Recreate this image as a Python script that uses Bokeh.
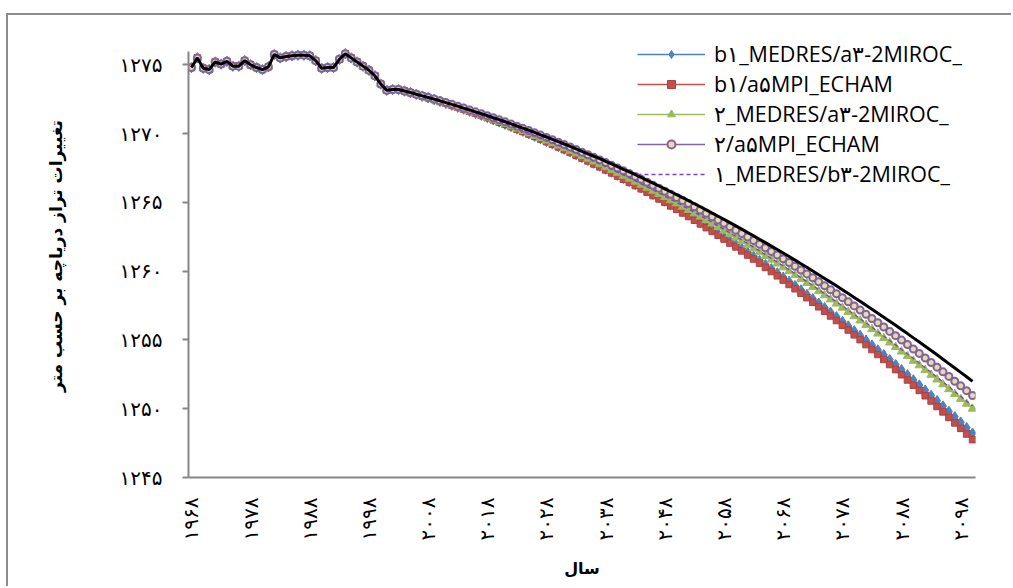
import math

from bokeh.embed import file_html
from bokeh.models import FixedTicker, Legend, LegendItem, Range1d
from bokeh.plotting import figure
from bokeh.resources import INLINE

# Years on the category axis
years = list(range(1968, 2101))

# Observed lake level (shared by every scenario), 1968-2002
observed = [
    1274.80, 1275.50, 1274.75, 1274.65, 1275.20, 1275.05, 1275.25, 1274.90, 1274.90, 1275.30,
    1275.00, 1274.80, 1274.65, 1274.85, 1275.75, 1275.50, 1275.60, 1275.65, 1275.70, 1275.70,
    1275.65, 1275.30, 1274.75, 1274.80, 1274.80, 1275.40, 1275.80, 1275.50, 1275.20, 1274.90,
    1274.60, 1274.20, 1273.60, 1273.15, 1273.20,
]

# Projected levels, 2003-2100
blue_proj = [
    1273.20, 1273.09, 1272.97, 1272.85, 1272.72, 1272.60, 1272.47, 1272.34, 1272.20, 1272.06,
    1271.92, 1271.78, 1271.63, 1271.48, 1271.33, 1271.17, 1271.01, 1270.85, 1270.68, 1270.52,
    1270.34, 1270.17, 1269.99, 1269.81, 1269.63, 1269.44, 1269.25, 1269.06, 1268.87, 1268.67,
    1268.47, 1268.27, 1268.06, 1267.85, 1267.64, 1267.42, 1267.20, 1266.98, 1266.75, 1266.53,
    1266.30, 1266.06, 1265.83, 1265.59, 1265.34, 1265.10, 1264.85, 1264.60, 1264.34, 1264.09,
    1263.83, 1263.56, 1263.30, 1263.03, 1262.75, 1262.48, 1262.20, 1261.92, 1261.63, 1261.35,
    1261.06, 1260.76, 1260.47, 1260.17, 1259.87, 1259.56, 1259.25, 1258.94, 1258.63, 1258.31,
    1257.99, 1257.67, 1257.34, 1257.01, 1256.68, 1256.34, 1256.01, 1255.66, 1255.32, 1254.97,
    1254.62, 1254.27, 1253.92, 1253.56, 1253.20, 1252.83, 1252.46, 1252.09, 1251.72, 1251.34,
    1250.96, 1250.58, 1250.19, 1249.80, 1249.41, 1249.02, 1248.62, 1248.22,
]
red_proj = [
    1273.20, 1273.09, 1272.97, 1272.85, 1272.72, 1272.60, 1272.47, 1272.33, 1272.20, 1272.06,
    1271.92, 1271.77, 1271.62, 1271.47, 1271.32, 1271.16, 1271.00, 1270.83, 1270.67, 1270.50,
    1270.32, 1270.15, 1269.97, 1269.79, 1269.60, 1269.41, 1269.22, 1269.03, 1268.83, 1268.63,
    1268.42, 1268.22, 1268.01, 1267.79, 1267.58, 1267.36, 1267.14, 1266.91, 1266.68, 1266.45,
    1266.22, 1265.98, 1265.74, 1265.49, 1265.25, 1265.00, 1264.74, 1264.49, 1264.23, 1263.97,
    1263.70, 1263.43, 1263.16, 1262.89, 1262.61, 1262.33, 1262.04, 1261.76, 1261.47, 1261.17,
    1260.88, 1260.58, 1260.27, 1259.97, 1259.66, 1259.35, 1259.03, 1258.72, 1258.39, 1258.07,
    1257.74, 1257.41, 1257.08, 1256.74, 1256.41, 1256.06, 1255.72, 1255.37, 1255.02, 1254.66,
    1254.30, 1253.94, 1253.58, 1253.21, 1252.84, 1252.47, 1252.09, 1251.71, 1251.33, 1250.94,
    1250.56, 1250.16, 1249.77, 1249.37, 1248.97, 1248.57, 1248.16, 1247.75,
]
green_proj = [
    1273.20, 1273.08, 1272.96, 1272.84, 1272.71, 1272.58, 1272.45, 1272.32, 1272.18, 1272.05,
    1271.90, 1271.76, 1271.61, 1271.47, 1271.32, 1271.16, 1271.01, 1270.85, 1270.69, 1270.52,
    1270.36, 1270.19, 1270.02, 1269.84, 1269.67, 1269.49, 1269.31, 1269.12, 1268.94, 1268.75,
    1268.56, 1268.36, 1268.17, 1267.97, 1267.77, 1267.56, 1267.35, 1267.15, 1266.93, 1266.72,
    1266.50, 1266.28, 1266.06, 1265.84, 1265.61, 1265.38, 1265.15, 1264.92, 1264.68, 1264.44,
    1264.20, 1263.96, 1263.71, 1263.46, 1263.21, 1262.95, 1262.70, 1262.44, 1262.18, 1261.91,
    1261.64, 1261.37, 1261.10, 1260.83, 1260.55, 1260.27, 1259.99, 1259.71, 1259.42, 1259.13,
    1258.84, 1258.54, 1258.24, 1257.94, 1257.64, 1257.34, 1257.03, 1256.72, 1256.41, 1256.09,
    1255.78, 1255.46, 1255.13, 1254.81, 1254.48, 1254.15, 1253.82, 1253.48, 1253.15, 1252.81,
    1252.46, 1252.12, 1251.77, 1251.42, 1251.07, 1250.71, 1250.36, 1250.00,
]
purple_proj = [
    1273.20, 1273.09, 1272.98, 1272.86, 1272.75, 1272.63, 1272.51, 1272.38, 1272.26, 1272.13,
    1271.99, 1271.86, 1271.72, 1271.58, 1271.44, 1271.30, 1271.15, 1271.00, 1270.85, 1270.70,
    1270.54, 1270.38, 1270.22, 1270.05, 1269.89, 1269.72, 1269.55, 1269.37, 1269.20, 1269.02,
    1268.84, 1268.65, 1268.46, 1268.27, 1268.08, 1267.89, 1267.69, 1267.49, 1267.29, 1267.09,
    1266.88, 1266.67, 1266.46, 1266.24, 1266.03, 1265.81, 1265.59, 1265.36, 1265.14, 1264.91,
    1264.68, 1264.44, 1264.20, 1263.96, 1263.72, 1263.48, 1263.23, 1262.98, 1262.73, 1262.48,
    1262.22, 1261.96, 1261.70, 1261.43, 1261.17, 1260.90, 1260.63, 1260.35, 1260.08, 1259.80,
    1259.52, 1259.23, 1258.94, 1258.65, 1258.36, 1258.07, 1257.77, 1257.47, 1257.17, 1256.87,
    1256.56, 1256.25, 1255.94, 1255.62, 1255.31, 1254.99, 1254.67, 1254.34, 1254.02, 1253.69,
    1253.36, 1253.02, 1252.68, 1252.35, 1252.00, 1251.66, 1251.31, 1250.96,
]
dashed_proj = [
    1273.20, 1273.08, 1272.96, 1272.84, 1272.72, 1272.59, 1272.46, 1272.33, 1272.19, 1272.05,
    1271.92, 1271.77, 1271.63, 1271.48, 1271.33, 1271.18, 1271.02, 1270.87, 1270.71, 1270.54,
    1270.38, 1270.21, 1270.04, 1269.87, 1269.70, 1269.52, 1269.34, 1269.16, 1268.97, 1268.78,
    1268.60, 1268.40, 1268.21, 1268.01, 1267.81, 1267.61, 1267.40, 1267.20, 1266.99, 1266.78,
    1266.56, 1266.34, 1266.12, 1265.90, 1265.68, 1265.45, 1265.22, 1264.99, 1264.75, 1264.52,
    1264.28, 1264.03, 1263.79, 1263.54, 1263.29, 1263.04, 1262.78, 1262.53, 1262.27, 1262.00,
    1261.74, 1261.47, 1261.20, 1260.93, 1260.66, 1260.38, 1260.10, 1259.82, 1259.53, 1259.24,
    1258.96, 1258.66, 1258.37, 1258.07, 1257.77, 1257.47, 1257.16, 1256.86, 1256.55, 1256.23,
    1255.92, 1255.60, 1255.28, 1254.96, 1254.64, 1254.31, 1253.98, 1253.65, 1253.31, 1252.98,
    1252.64, 1252.29, 1251.95, 1251.60, 1251.25, 1250.90, 1250.54, 1250.19,
]
black_proj = [
    1273.20, 1273.09, 1272.98, 1272.86, 1272.74, 1272.62, 1272.50, 1272.38, 1272.25, 1272.12,
    1271.99, 1271.85, 1271.72, 1271.58, 1271.44, 1271.30, 1271.15, 1271.01, 1270.86, 1270.71,
    1270.55, 1270.40, 1270.24, 1270.08, 1269.91, 1269.75, 1269.58, 1269.41, 1269.24, 1269.07,
    1268.89, 1268.71, 1268.53, 1268.35, 1268.17, 1267.98, 1267.79, 1267.60, 1267.40, 1267.21,
    1267.01, 1266.81, 1266.60, 1266.40, 1266.19, 1265.98, 1265.77, 1265.56, 1265.34, 1265.12,
    1264.90, 1264.68, 1264.45, 1264.22, 1263.99, 1263.76, 1263.53, 1263.29, 1263.05, 1262.81,
    1262.57, 1262.32, 1262.07, 1261.82, 1261.57, 1261.32, 1261.06, 1260.80, 1260.54, 1260.28,
    1260.01, 1259.74, 1259.47, 1259.20, 1258.93, 1258.65, 1258.37, 1258.09, 1257.81, 1257.52,
    1257.23, 1256.94, 1256.65, 1256.35, 1256.06, 1255.76, 1255.46, 1255.15, 1254.85, 1254.54,
    1254.23, 1253.92, 1253.60, 1253.28, 1252.96, 1252.64, 1252.32, 1251.99,
]

series_names = [
    "b۱_MEDRES/a۳-2MIROC_",
    "b۱/a۵MPI_ECHAM",
    "۲_MEDRES/a۳-2MIROC_",
    "۲/a۵MPI_ECHAM",
    "۱_MEDRES/b۳-2MIROC_",
]

x_tick_years = [1968, 1978, 1988, 1998, 2008, 2018, 2028, 2038, 2048, 2058, 2068, 2078, 2088, 2098]
x_tick_labels = ["۱۹۶۸", "۱۹۷۸", "۱۹۸۸", "۱۹۹۸", "۲۰۰۸", "۲۰۱۸", "۲۰۲۸",
                 "۲۰۳۸", "۲۰۴۸", "۲۰۵۸", "۲۰۶۸", "۲۰۷۸", "۲۰۸۸", "۲۰۹۸"]
y_tick_values = [1245, 1250, 1255, 1260, 1265, 1270, 1275]
y_tick_labels = ["۱۲۴۵", "۱۲۵۰", "۱۲۵۵", "۱۲۶۰", "۱۲۶۵", "۱۲۷۰", "۱۲۷۵"]

x_title = "سال"
y_title = "تغییرات تراز دریاچه بر حسب متر"

AXIS_GREY = "#868686"
PERSIAN_FONT = "DejaVu Sans"

# The frame reaches a little above the axis top so the legend is not clipped;
# the y axis line itself is bounded to 1245-1276.
p = figure(
    width=1005, height=573,
    x_range=Range1d(1967.5, 2100.5), y_range=Range1d(1245, 1277.2),
    output_backend="svg", toolbar_location=None,
    min_border_left=180, min_border_right=38, min_border_top=19, min_border_bottom=111,
)
p.margin = (13, 0, 0, 6)
p.styles = {"border-left": "2px solid #8c8c8c", "border-top": "2px solid #8c8c8c"}
p.outline_line_color = None
p.xgrid.visible = False
p.ygrid.visible = False
p.background_fill_color = "white"
p.border_fill_color = "white"

# x axis: no tick marks, rotated Persian year labels read top to bottom
xa = p.xaxis[0]
xa.ticker = FixedTicker(ticks=x_tick_years)
xa.major_label_overrides = dict(zip(x_tick_years, x_tick_labels))
xa.major_label_orientation = math.pi / 2
xa.major_label_standoff = 20
xa.major_tick_in = 0
xa.major_tick_out = 0
xa.minor_tick_in = 0
xa.minor_tick_out = 0
xa.axis_line_color = AXIS_GREY
xa.axis_line_width = 2
xa.major_label_text_font = PERSIAN_FONT
xa.major_label_text_font_size = "20px"
xa.major_label_text_color = "black"
xa.axis_label = x_title
xa.axis_label_text_font = PERSIAN_FONT
xa.axis_label_text_font_style = "bold"
xa.axis_label_text_font_size = "16px"
xa.axis_label_text_color = "black"
xa.axis_label_standoff = 16

# y axis: outward ticks every 5 m
ya = p.yaxis[0]
ya.bounds = (1245, 1276)
ya.ticker = FixedTicker(ticks=y_tick_values)
ya.major_label_overrides = dict(zip(y_tick_values, y_tick_labels))
ya.major_label_standoff = 20
ya.major_tick_in = 0
ya.major_tick_out = 6
ya.major_tick_line_color = AXIS_GREY
ya.major_tick_line_width = 2
ya.minor_tick_in = 0
ya.minor_tick_out = 0
ya.axis_line_color = AXIS_GREY
ya.axis_line_width = 2
ya.major_label_text_font = PERSIAN_FONT
ya.major_label_text_font_size = "20px"
ya.major_label_text_color = "black"
ya.axis_label = y_title
ya.axis_label_text_font = PERSIAN_FONT
ya.axis_label_text_font_style = "bold"
ya.axis_label_text_font_size = "17px"
ya.axis_label_text_color = "black"
ya.axis_label_standoff = 51

blue = observed + blue_proj
red = observed + red_proj
green = observed + green_proj
purple = observed + purple_proj
dashed = observed + dashed_proj
black = observed + black_proj

items = []

l1 = p.line(years, blue, line_color="#4F81BD", line_width=1.5)
m1 = p.scatter(years, blue, marker="diamond", size=10.5,
               fill_color="#4F81BD", line_color="#4F81BD")
items.append(LegendItem(label=series_names[0], renderers=[l1, m1]))

l2 = p.line(years, red, line_color="#C0504D", line_width=1.5)
m2 = p.scatter(years, red, marker="square", size=6.5,
               fill_color="#C0504D", line_color="#B0403D")
items.append(LegendItem(label=series_names[1], renderers=[l2, m2]))

l3 = p.line(years, green, line_color="#9BBB59", line_width=1.5)
m3 = p.scatter(years, green, marker="triangle", size=8.5,
               fill_color="#9BBB59", line_color="#9BBB59")
items.append(LegendItem(label=series_names[2], renderers=[l3, m3]))

l4 = p.line(years, purple, line_color="#8064A2", line_width=1.5)
m4 = p.scatter(years, purple, marker="circle", size=7,
               fill_color="#E6DAA8", line_color="#8064A2", line_width=2)
items.append(LegendItem(label=series_names[3], renderers=[l4, m4]))

l5 = p.line(years, dashed, line_color="#8040C0", line_width=1.3, line_dash="4 3")
items.append(LegendItem(label=series_names[4], renderers=[l5]))

p.line(years, black, line_color="black", line_width=3)

legend = Legend(
    items=items, location=(449, 289),
    padding=0, margin=0, spacing=1,
    glyph_width=68, glyph_height=20, label_height=20, label_standoff=9,
    label_text_font="Open Sans", label_text_font_size="21.5px", label_text_color="black",
    border_line_color=None, background_fill_alpha=0,
)
p.add_layout(legend)

with open("out.html", "w") as f:
    f.write(file_html(p, INLINE))
